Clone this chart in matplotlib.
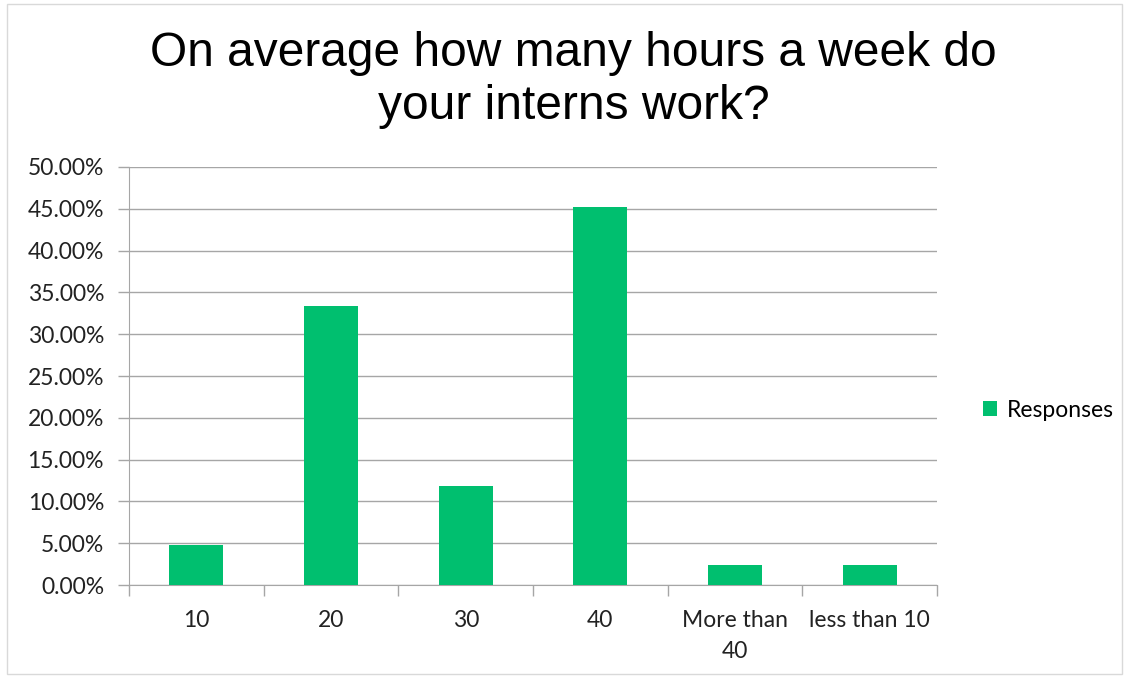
import numpy as np
import matplotlib.pyplot as plt
from matplotlib.patches import Rectangle
from matplotlib.ticker import PercentFormatter

# Survey responses (share of respondents)
categories = ['10', '20', '30', '40', 'More than\n40', 'less than 10']
responses = [4.76, 33.33, 11.90, 45.24, 2.38, 2.38]

bar_color = '#00BF6F'
grid_color = '#A6A6A6'

fig = plt.figure(figsize=(11.29, 6.78), dpi=100)
ax = fig.add_axes([0.1143, 0.137, 0.7157, 0.6167])

x = np.arange(len(categories))
ax.bar(x, responses, width=0.4, color=bar_color, label='Responses', zorder=3)

ax.set_xlim(-0.5, len(categories) - 0.5)
ax.set_ylim(0, 50)
ax.set_yticks(np.arange(0, 50.1, 5))
ax.yaxis.set_major_formatter(PercentFormatter(decimals=2))
ax.grid(axis='y', color=grid_color, linewidth=1, zorder=0)

# category labels between boundary ticks
ax.set_xticks(np.arange(-0.5, len(categories), 1))
ax.set_xticklabels([])
ax.set_xticks(x, minor=True)
ax.set_xticklabels(categories, minor=True, fontsize=16.5, fontfamily='Lato',
                   color='#222222', linespacing=1.6)
ax.tick_params(axis='x', which='major', length=8, color=grid_color, width=1)
ax.tick_params(axis='x', which='minor', length=0, pad=18)
ax.tick_params(axis='y', length=8, color=grid_color, width=1, pad=10,
               labelsize=16.5, labelcolor='#222222')
for lab in ax.get_yticklabels():
    lab.set_fontfamily('Lato')

for side in ['top', 'right']:
    ax.spines[side].set_visible(False)
for side in ['left', 'bottom']:
    ax.spines[side].set_color(grid_color)

fig.text(0.508, 0.882, 'On average how many hours a week do\nyour interns work?',
         ha='center', va='center', fontsize=34.5, fontfamily='Liberation Sans',
         linespacing=1.25)

leg = fig.legend(loc='center left', bbox_to_anchor=(0.852, 0.395), frameon=False,
                 prop={'family': 'Lato', 'size': 16.5}, handlelength=0.65,
                 handleheight=0.65, handletextpad=0.4)

# thin outer frame
fig.patches.append(Rectangle((0.006, 0.006), 0.988, 0.988, transform=fig.transFigure,
                             fill=False, edgecolor='#D9D9D9', linewidth=1))

fig.savefig('out.png', dpi=100)
